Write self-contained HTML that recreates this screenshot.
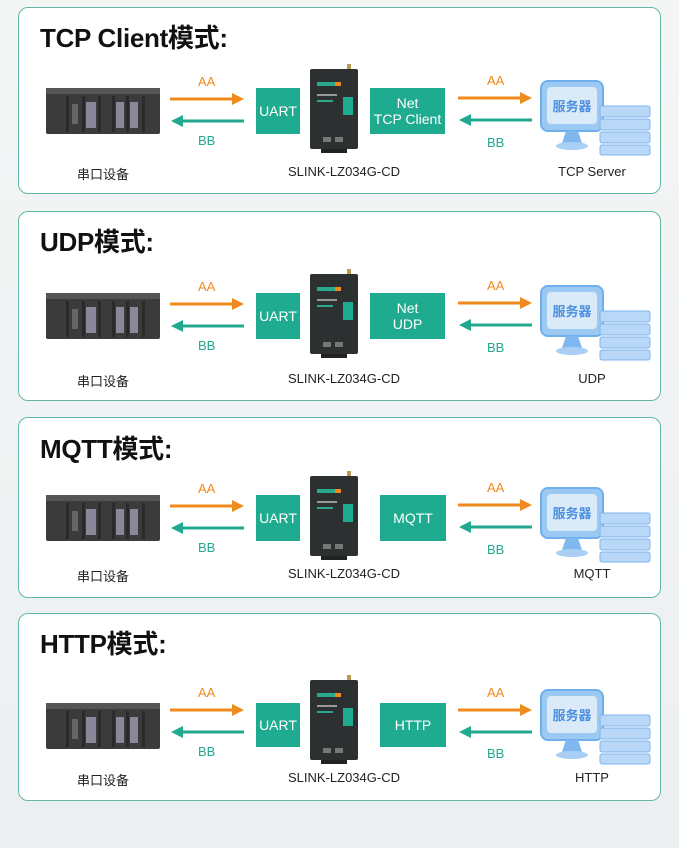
<!DOCTYPE html>
<html><head><meta charset="utf-8"><style>
body{margin:0;width:679px;height:848px;background:linear-gradient(#f4f6f6,#eceff0);position:relative;overflow:hidden;font-family:"Liberation Sans","Noto Sans CJK SC",sans-serif}
.panel{position:absolute;left:18px;width:643px;background:#fff;border:1.5px solid #5fb8a8;border-radius:10px;box-sizing:border-box}
.title{position:absolute;left:40px;font-size:26px;font-weight:bold;color:#111;line-height:30px;letter-spacing:-0.3px}
.w{position:absolute;left:0;width:679px;height:180px}
.box{position:absolute;background:#1fab8f;color:#fff;font-size:14px;display:flex;align-items:center;justify-content:center;text-align:center;line-height:16px}
.lbl{position:absolute;font-size:13px;color:#222;text-align:center;width:140px}
.aa{position:absolute;font-size:13px;color:#f08a1c}
.bb{position:absolute;font-size:13px;color:#22a88f}
svg{position:absolute}
</style></head><body>

<div class="panel" style="top:7px;height:187px"></div>
<div class="panel" style="top:211px;height:190px"></div>
<div class="panel" style="top:417px;height:181px"></div>
<div class="panel" style="top:613px;height:188px"></div>

<div class="title" style="top:23px">TCP Client模式:</div>
<div class="title" style="top:227px">UDP模式:</div>
<div class="title" style="top:434px">MQTT模式:</div>
<div class="title" style="top:629px">HTTP模式:</div>

<div class="w" style="top:0px">
<svg style="left:46px;top:88px" width="114" height="46"><rect width="114" height="46" rx="2" fill="#3b3b3b"/><rect x="0" y="0" width="114" height="6" fill="#555"/><g fill="#2a2a2a"><rect x="20" y="8" width="3" height="36"/><rect x="36" y="8" width="3" height="36"/><rect x="52" y="8" width="3" height="36"/><rect x="66" y="8" width="3" height="36"/><rect x="80" y="8" width="3" height="36"/><rect x="96" y="8" width="3" height="36"/></g><g fill="#889"><rect x="40" y="14" width="10" height="26"/><rect x="70" y="14" width="8" height="26"/><rect x="84" y="14" width="8" height="26"/></g><rect x="26" y="16" width="6" height="20" fill="#666"/></svg>
<div class="aa" style="left:198px;top:74px">AA</div>
<svg style="left:170px;top:92px" width="76" height="36"><path d="M0 7H64" stroke="#f08a1c" stroke-width="3"/><path d="M62 1L74 7L62 13Z" fill="#f08a1c"/><path d="M12 29H74" stroke="#22a88f" stroke-width="3"/><path d="M13 23L1 29L13 35Z" fill="#22a88f"/></svg>
<div class="bb" style="left:198px;top:133px">BB</div>
<div class="box" style="left:256px;top:88px;width:44px;height:46px">UART</div>
<svg style="left:309px;top:64px" width="52" height="90"><rect x="38" y="0" width="4" height="6" fill="#b89a50"/><rect x="1" y="5" width="48" height="80" rx="2" fill="#2d3030"/><rect x="8" y="18" width="22" height="4" fill="#2aa98e"/><rect x="26" y="18" width="6" height="4" fill="#f08a1c"/><rect x="8" y="30" width="20" height="2" fill="#999"/><rect x="8" y="36" width="16" height="2" fill="#2aa98e"/><rect x="34" y="33" width="10" height="18" fill="#1fab8f"/><rect x="14" y="73" width="8" height="5" fill="#777"/><rect x="26" y="73" width="8" height="5" fill="#777"/><rect x="12" y="85" width="26" height="4" fill="#222"/></svg>
<div class="box" style="left:370px;top:88px;width:75px;height:46px">Net<br>TCP Client</div>
<div class="aa" style="left:487px;top:73px">AA</div>
<svg style="left:458px;top:91px" width="76" height="36"><path d="M0 7H64" stroke="#f08a1c" stroke-width="3"/><path d="M62 1L74 7L62 13Z" fill="#f08a1c"/><path d="M12 29H74" stroke="#22a88f" stroke-width="3"/><path d="M13 23L1 29L13 35Z" fill="#22a88f"/></svg>
<div class="bb" style="left:487px;top:135px">BB</div>
<svg style="left:538px;top:78px" width="122" height="78"><rect x="3" y="3" width="62" height="50" rx="7" fill="#9cc9f2" stroke="#6fb0ec" stroke-width="2"/><rect x="9" y="9" width="50" height="37" rx="4" fill="#dbeaf8"/><text x="34" y="33" font-size="13" font-weight="bold" fill="#4a8fe0" text-anchor="middle" font-family="Noto Sans CJK SC,sans-serif">服务器</text><path d="M28 53h12l4 12h-20z" fill="#7fb7ee"/><ellipse cx="34" cy="68" rx="16" ry="4" fill="#a9d0f4"/><g fill="#b9d8f7" stroke="#7fb5ee"><rect x="62" y="28" width="50" height="11" rx="2"/><rect x="62" y="41" width="50" height="11" rx="2"/><rect x="62" y="54" width="50" height="11" rx="2"/><rect x="62" y="67" width="50" height="10" rx="2"/></g></svg>
<div class="lbl" style="left:33px;top:164px">串口设备</div>
<div class="lbl" style="left:274px;top:164px">SLINK-LZ034G-CD</div>
<div class="lbl" style="left:522px;top:164px">TCP Server</div>
</div>

<div class="w" style="top:205px">
<svg style="left:46px;top:88px" width="114" height="46"><rect width="114" height="46" rx="2" fill="#3b3b3b"/><rect x="0" y="0" width="114" height="6" fill="#555"/><g fill="#2a2a2a"><rect x="20" y="8" width="3" height="36"/><rect x="36" y="8" width="3" height="36"/><rect x="52" y="8" width="3" height="36"/><rect x="66" y="8" width="3" height="36"/><rect x="80" y="8" width="3" height="36"/><rect x="96" y="8" width="3" height="36"/></g><g fill="#889"><rect x="40" y="14" width="10" height="26"/><rect x="70" y="14" width="8" height="26"/><rect x="84" y="14" width="8" height="26"/></g><rect x="26" y="16" width="6" height="20" fill="#666"/></svg>
<div class="aa" style="left:198px;top:74px">AA</div>
<svg style="left:170px;top:92px" width="76" height="36"><path d="M0 7H64" stroke="#f08a1c" stroke-width="3"/><path d="M62 1L74 7L62 13Z" fill="#f08a1c"/><path d="M12 29H74" stroke="#22a88f" stroke-width="3"/><path d="M13 23L1 29L13 35Z" fill="#22a88f"/></svg>
<div class="bb" style="left:198px;top:133px">BB</div>
<div class="box" style="left:256px;top:88px;width:44px;height:46px">UART</div>
<svg style="left:309px;top:64px" width="52" height="90"><rect x="38" y="0" width="4" height="6" fill="#b89a50"/><rect x="1" y="5" width="48" height="80" rx="2" fill="#2d3030"/><rect x="8" y="18" width="22" height="4" fill="#2aa98e"/><rect x="26" y="18" width="6" height="4" fill="#f08a1c"/><rect x="8" y="30" width="20" height="2" fill="#999"/><rect x="8" y="36" width="16" height="2" fill="#2aa98e"/><rect x="34" y="33" width="10" height="18" fill="#1fab8f"/><rect x="14" y="73" width="8" height="5" fill="#777"/><rect x="26" y="73" width="8" height="5" fill="#777"/><rect x="12" y="85" width="26" height="4" fill="#222"/></svg>
<div class="box" style="left:370px;top:88px;width:75px;height:46px">Net<br>UDP</div>
<div class="aa" style="left:487px;top:73px">AA</div>
<svg style="left:458px;top:91px" width="76" height="36"><path d="M0 7H64" stroke="#f08a1c" stroke-width="3"/><path d="M62 1L74 7L62 13Z" fill="#f08a1c"/><path d="M12 29H74" stroke="#22a88f" stroke-width="3"/><path d="M13 23L1 29L13 35Z" fill="#22a88f"/></svg>
<div class="bb" style="left:487px;top:135px">BB</div>
<svg style="left:538px;top:78px" width="122" height="78"><rect x="3" y="3" width="62" height="50" rx="7" fill="#9cc9f2" stroke="#6fb0ec" stroke-width="2"/><rect x="9" y="9" width="50" height="37" rx="4" fill="#dbeaf8"/><text x="34" y="33" font-size="13" font-weight="bold" fill="#4a8fe0" text-anchor="middle" font-family="Noto Sans CJK SC,sans-serif">服务器</text><path d="M28 53h12l4 12h-20z" fill="#7fb7ee"/><ellipse cx="34" cy="68" rx="16" ry="4" fill="#a9d0f4"/><g fill="#b9d8f7" stroke="#7fb5ee"><rect x="62" y="28" width="50" height="11" rx="2"/><rect x="62" y="41" width="50" height="11" rx="2"/><rect x="62" y="54" width="50" height="11" rx="2"/><rect x="62" y="67" width="50" height="10" rx="2"/></g></svg>
<div class="lbl" style="left:33px;top:166px">串口设备</div>
<div class="lbl" style="left:274px;top:166px">SLINK-LZ034G-CD</div>
<div class="lbl" style="left:522px;top:166px">UDP</div>
</div>

<div class="w" style="top:407px">
<svg style="left:46px;top:88px" width="114" height="46"><rect width="114" height="46" rx="2" fill="#3b3b3b"/><rect x="0" y="0" width="114" height="6" fill="#555"/><g fill="#2a2a2a"><rect x="20" y="8" width="3" height="36"/><rect x="36" y="8" width="3" height="36"/><rect x="52" y="8" width="3" height="36"/><rect x="66" y="8" width="3" height="36"/><rect x="80" y="8" width="3" height="36"/><rect x="96" y="8" width="3" height="36"/></g><g fill="#889"><rect x="40" y="14" width="10" height="26"/><rect x="70" y="14" width="8" height="26"/><rect x="84" y="14" width="8" height="26"/></g><rect x="26" y="16" width="6" height="20" fill="#666"/></svg>
<div class="aa" style="left:198px;top:74px">AA</div>
<svg style="left:170px;top:92px" width="76" height="36"><path d="M0 7H64" stroke="#f08a1c" stroke-width="3"/><path d="M62 1L74 7L62 13Z" fill="#f08a1c"/><path d="M12 29H74" stroke="#22a88f" stroke-width="3"/><path d="M13 23L1 29L13 35Z" fill="#22a88f"/></svg>
<div class="bb" style="left:198px;top:133px">BB</div>
<div class="box" style="left:256px;top:88px;width:44px;height:46px">UART</div>
<svg style="left:309px;top:64px" width="52" height="90"><rect x="38" y="0" width="4" height="6" fill="#b89a50"/><rect x="1" y="5" width="48" height="80" rx="2" fill="#2d3030"/><rect x="8" y="18" width="22" height="4" fill="#2aa98e"/><rect x="26" y="18" width="6" height="4" fill="#f08a1c"/><rect x="8" y="30" width="20" height="2" fill="#999"/><rect x="8" y="36" width="16" height="2" fill="#2aa98e"/><rect x="34" y="33" width="10" height="18" fill="#1fab8f"/><rect x="14" y="73" width="8" height="5" fill="#777"/><rect x="26" y="73" width="8" height="5" fill="#777"/><rect x="12" y="85" width="26" height="4" fill="#222"/></svg>
<div class="box" style="left:380px;top:88px;width:66px;height:46px">MQTT</div>
<div class="aa" style="left:487px;top:73px">AA</div>
<svg style="left:458px;top:91px" width="76" height="36"><path d="M0 7H64" stroke="#f08a1c" stroke-width="3"/><path d="M62 1L74 7L62 13Z" fill="#f08a1c"/><path d="M12 29H74" stroke="#22a88f" stroke-width="3"/><path d="M13 23L1 29L13 35Z" fill="#22a88f"/></svg>
<div class="bb" style="left:487px;top:135px">BB</div>
<svg style="left:538px;top:78px" width="122" height="78"><rect x="3" y="3" width="62" height="50" rx="7" fill="#9cc9f2" stroke="#6fb0ec" stroke-width="2"/><rect x="9" y="9" width="50" height="37" rx="4" fill="#dbeaf8"/><text x="34" y="33" font-size="13" font-weight="bold" fill="#4a8fe0" text-anchor="middle" font-family="Noto Sans CJK SC,sans-serif">服务器</text><path d="M28 53h12l4 12h-20z" fill="#7fb7ee"/><ellipse cx="34" cy="68" rx="16" ry="4" fill="#a9d0f4"/><g fill="#b9d8f7" stroke="#7fb5ee"><rect x="62" y="28" width="50" height="11" rx="2"/><rect x="62" y="41" width="50" height="11" rx="2"/><rect x="62" y="54" width="50" height="11" rx="2"/><rect x="62" y="67" width="50" height="10" rx="2"/></g></svg>
<div class="lbl" style="left:33px;top:159px">串口设备</div>
<div class="lbl" style="left:274px;top:159px">SLINK-LZ034G-CD</div>
<div class="lbl" style="left:522px;top:159px">MQTT</div>
</div>

<div class="w" style="top:615px">
<svg style="left:46px;top:88px" width="114" height="46"><rect width="114" height="46" rx="2" fill="#3b3b3b"/><rect x="0" y="0" width="114" height="6" fill="#555"/><g fill="#2a2a2a"><rect x="20" y="8" width="3" height="36"/><rect x="36" y="8" width="3" height="36"/><rect x="52" y="8" width="3" height="36"/><rect x="66" y="8" width="3" height="36"/><rect x="80" y="8" width="3" height="36"/><rect x="96" y="8" width="3" height="36"/></g><g fill="#889"><rect x="40" y="14" width="10" height="26"/><rect x="70" y="14" width="8" height="26"/><rect x="84" y="14" width="8" height="26"/></g><rect x="26" y="16" width="6" height="20" fill="#666"/></svg>
<div class="aa" style="left:198px;top:70px">AA</div>
<svg style="left:170px;top:88px" width="76" height="36"><path d="M0 7H64" stroke="#f08a1c" stroke-width="3"/><path d="M62 1L74 7L62 13Z" fill="#f08a1c"/><path d="M12 29H74" stroke="#22a88f" stroke-width="3"/><path d="M13 23L1 29L13 35Z" fill="#22a88f"/></svg>
<div class="bb" style="left:198px;top:129px">BB</div>
<div class="box" style="left:256px;top:88px;width:44px;height:44px">UART</div>
<svg style="left:309px;top:60px" width="52" height="90"><rect x="38" y="0" width="4" height="6" fill="#b89a50"/><rect x="1" y="5" width="48" height="80" rx="2" fill="#2d3030"/><rect x="8" y="18" width="22" height="4" fill="#2aa98e"/><rect x="26" y="18" width="6" height="4" fill="#f08a1c"/><rect x="8" y="30" width="20" height="2" fill="#999"/><rect x="8" y="36" width="16" height="2" fill="#2aa98e"/><rect x="34" y="33" width="10" height="18" fill="#1fab8f"/><rect x="14" y="73" width="8" height="5" fill="#777"/><rect x="26" y="73" width="8" height="5" fill="#777"/><rect x="12" y="85" width="26" height="4" fill="#222"/></svg>
<div class="box" style="left:380px;top:88px;width:66px;height:44px">HTTP</div>
<div class="aa" style="left:487px;top:70px">AA</div>
<svg style="left:458px;top:88px" width="76" height="36"><path d="M0 7H64" stroke="#f08a1c" stroke-width="3"/><path d="M62 1L74 7L62 13Z" fill="#f08a1c"/><path d="M12 29H74" stroke="#22a88f" stroke-width="3"/><path d="M13 23L1 29L13 35Z" fill="#22a88f"/></svg>
<div class="bb" style="left:487px;top:131px">BB</div>
<svg style="left:538px;top:72px" width="122" height="78"><rect x="3" y="3" width="62" height="50" rx="7" fill="#9cc9f2" stroke="#6fb0ec" stroke-width="2"/><rect x="9" y="9" width="50" height="37" rx="4" fill="#dbeaf8"/><text x="34" y="33" font-size="13" font-weight="bold" fill="#4a8fe0" text-anchor="middle" font-family="Noto Sans CJK SC,sans-serif">服务器</text><path d="M28 53h12l4 12h-20z" fill="#7fb7ee"/><ellipse cx="34" cy="68" rx="16" ry="4" fill="#a9d0f4"/><g fill="#b9d8f7" stroke="#7fb5ee"><rect x="62" y="28" width="50" height="11" rx="2"/><rect x="62" y="41" width="50" height="11" rx="2"/><rect x="62" y="54" width="50" height="11" rx="2"/><rect x="62" y="67" width="50" height="10" rx="2"/></g></svg>
<div class="lbl" style="left:33px;top:155px">串口设备</div>
<div class="lbl" style="left:274px;top:155px">SLINK-LZ034G-CD</div>
<div class="lbl" style="left:522px;top:155px">HTTP</div>
</div>
</body></html>
